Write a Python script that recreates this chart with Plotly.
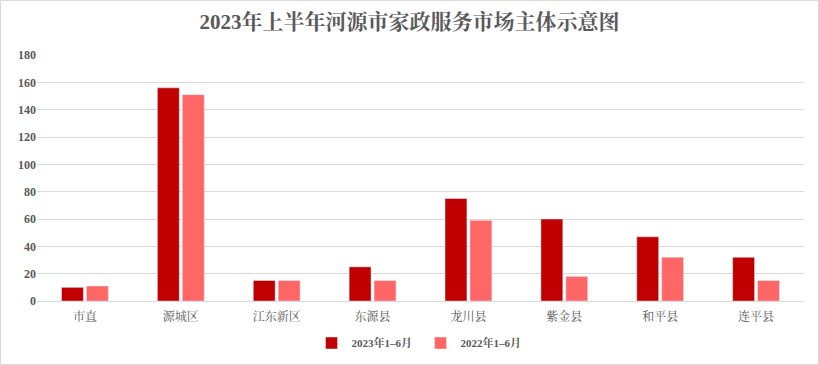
import plotly.graph_objects as go

categories = ["市直", "源城区", "江东新区", "东源县", "龙川县", "紫金县", "和平县", "连平县"]
values_2023 = [10, 156, 15, 25, 75, 60, 47, 32]
values_2022 = [11, 151, 15, 15, 59, 18, 32, 15]
series_names = ["2023年1–6月", "2022年1–6月"]
title_text = "2023年上半年河源市家政服务市场主体示意图"

FONT = "Liberation Serif, Noto Serif CJK SC, Noto Sans CJK SC, serif"
GRAY = "#595959"

fig = go.Figure()
fig.add_trace(go.Bar(x=categories, y=values_2023, name="<b>" + series_names[0] + "</b>", marker_color="#C00000"))
fig.add_trace(go.Bar(x=categories, y=values_2022, name="<b>" + series_names[1] + "</b>", marker_color="#FF6666"))

W, H = 819, 365
ml, mr, mt, mb = 37, 15, 55, 64
pw, ph = W - ml - mr, H - mt - mb

fig.update_layout(
    width=W, height=H,
    margin=dict(l=ml, r=mr, t=mt, b=mb, autoexpand=False),
    paper_bgcolor="white", plot_bgcolor="white",
    title=dict(text="<b>" + title_text + "</b>", x=0.5, xanchor="center", y=1 - 22 / H, yanchor="middle",
               font=dict(family=FONT, size=21, color=GRAY)),
    barmode="group", bargap=0.48, bargroupgap=0.12,
    showlegend=True,
    legend=dict(orientation="h", x=0.5, xanchor="center", y=-42 / ph, yanchor="middle",
                font=dict(family=FONT, size=11, color=GRAY), itemwidth=30, traceorder="normal",
                entrywidth=64, entrywidthmode="pixels"),
    font=dict(family=FONT, color=GRAY),
)
fig.update_yaxes(range=[0, 180], dtick=20, showgrid=True, gridcolor="#D9D9D9", gridwidth=1,
                 zeroline=False, showline=False, ticks="", automargin=False,
                 tickfont=dict(family=FONT, size=12, color=GRAY), tickprefix="<b>", ticksuffix="</b>")
fig.update_xaxes(showline=True, linecolor="#D9D9D9", linewidth=1, ticks="", automargin=False,
                 ticklabelstandoff=5,
                 tickfont=dict(family=FONT, size=12, color=GRAY))
fig.add_shape(type="rect", xref="paper", yref="paper",
              x0=-(ml - 0.5) / pw, x1=1 + (mr - 0.5) / pw,
              y0=-(mb - 0.5) / ph, y1=1 + (mt - 0.5) / ph,
              line=dict(color="#D9D9D9", width=1), fillcolor="rgba(0,0,0,0)", layer="below")

fig.write_html("out.html", config={"displayModeBar": False},
               post_script="document.body.style.margin='0';document.body.style.overflow='hidden';")
